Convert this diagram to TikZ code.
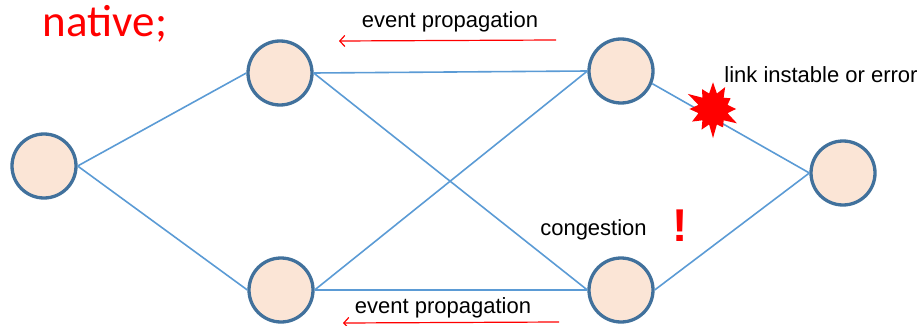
\documentclass[tikz,border=0pt]{standalone}
\usepackage{fontspec}
\setmainfont{Liberation Sans}
\newfontfamily\titlefont{Carlito}
\usetikzlibrary{shapes,arrows.meta,positioning,calc}
\definecolor{nodefill}{HTML}{FBE5D6}
\definecolor{nodeline}{HTML}{41719C}
\definecolor{linkline}{HTML}{5B9BD5}
\tikzset{
  switchnode/.style={circle,draw=nodeline,fill=nodefill,line width=3.3pt,minimum size=64pt,inner sep=0pt},
  linkedge/.style={draw=linkline,line width=1.6pt},
  eventarrow/.style={-{Straight Barb[length=5pt,width=11pt]},draw=red,line width=1.2pt},
  caption/.style={font=\fontsize{22pt}{24pt}\selectfont,text=black,inner sep=0pt}
}
\begin{document}
\begin{tikzpicture}[x=1pt,y=-1pt]
    \useasboundingbox (0,0) rectangle (920,326);
    % links go first, circles sit on top
    \coordinate (posA) at (44,166);
    \coordinate (posB) at (280,73);
    \coordinate (posC) at (621,71);
    \coordinate (posD) at (281,290);
    \coordinate (posE) at (621,290);
    \coordinate (posF) at (843,173);
    \node[switchnode] (A) at (posA) {};
    \node[switchnode] (B) at (posB) {};
    \node[switchnode] (C) at (posC) {};
    \node[switchnode] (D) at (posD) {};
    \node[switchnode] (E) at (posE) {};
    \node[switchnode] (F) at (posF) {};
    \draw[linkedge] (A.east) -- (B.west);
    \draw[linkedge] (A.east) -- (D.west);
    \draw[linkedge] (B.east) -- (C.west);
    \draw[linkedge] (B.east) -- (E.west);
    \draw[linkedge] (D.east) -- (C.west);
    \draw[linkedge] (D.east) -- (E.west);
    \draw[linkedge] (C.-22) -- (F.west);
    \draw[linkedge] (E.east) -- (F.west);
    % labels
    \node[text=red,inner sep=0pt,font=\titlefont\fontsize{45pt}{48pt}\selectfont] (title) at (105,24) {native;};
    \node[caption] (topevent) at (450,21.5) {event propagation};
    \node[caption] (botevent) at (443,308) {event propagation};
    \node[caption] (congest) at (593.5,229.5) {congestion};
    \node[caption] (linkerr) at (821,75) {link instable or error};
    % arrows
    \coordinate (topstart) at (556,40);
    \coordinate (topend) at (339,41);
    \coordinate (botstart) at (559,322);
    \coordinate (botend) at (343,323);
    \draw[eventarrow] (topstart) -- (topend);
    \draw[eventarrow] (botstart) -- (botend);
    % marks
    \node[starburst,starburst points=12,starburst point height=15pt,fill=red,draw=none,
      minimum width=60pt,minimum height=62pt,inner sep=0pt] (burst) at (713,109) {};
    \node[text=red,inner sep=0pt,font=\bfseries\fontsize{46pt}{50pt}\selectfont] (alert) at (680,226) {!};
\end{tikzpicture}
\end{document}
